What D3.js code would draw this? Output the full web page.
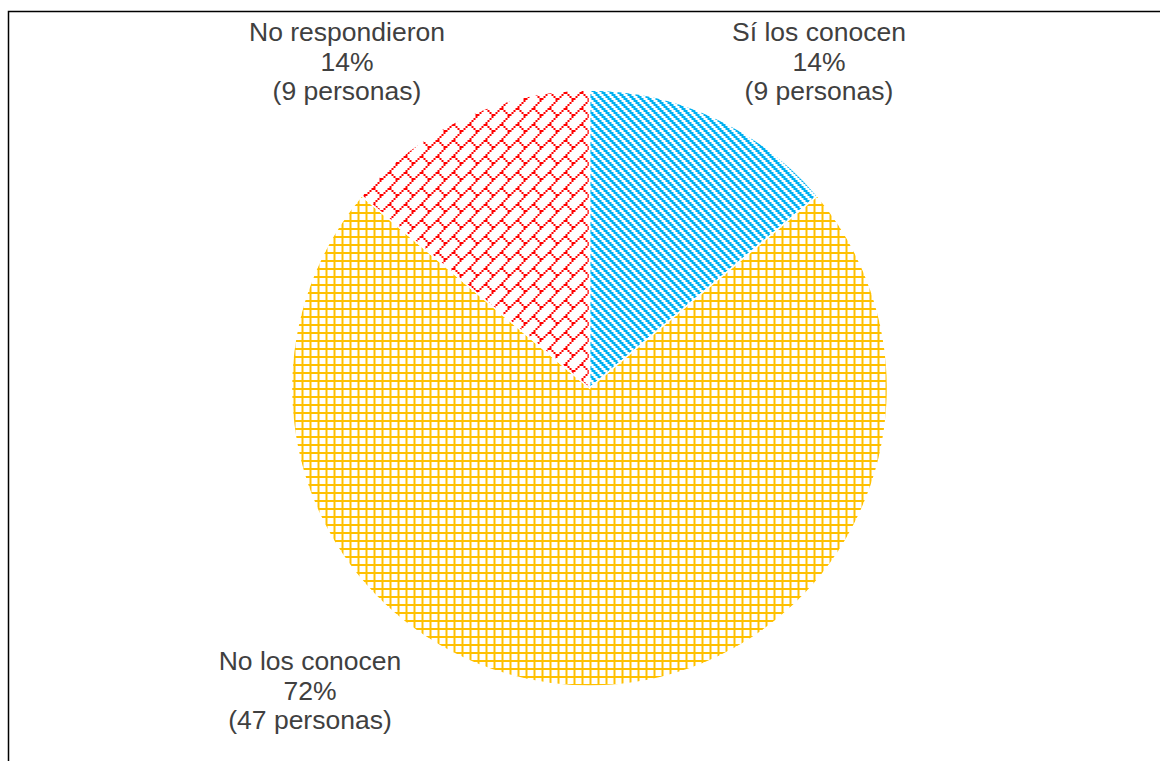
<!DOCTYPE html>
<html>
<head>
<meta charset="utf-8">
<script src="https://cdn.jsdelivr.net/npm/d3@7"></script>
<style>
  html, body { margin: 0; padding: 0; background: #ffffff; }
  svg { display: block; }
</style>
</head>
<body>
<svg id="chart" width="1160" height="761"></svg>
<script>
// Survey answers: do respondents know them?
const categories = ["Sí los conocen", "No los conocen", "No respondieron"];
const counts = [9, 47, 9];
const unitLabel = "personas";

// Fill pattern for each slice (same order as categories)
const patternIds = ["pat-blue", "pat-yellow", "pat-red"];
const colors = ["#00B0F0", "#FFC000", "#FF0000"];

// Label anchors (centre of the first text line), same order as categories
const labelAnchors = [[819, 32], [310, 661], [347, 32]];

const W = 1160, H = 761;
const cx = 589.5, cy = 388, R = 298;
const fontSize = 26.5, lineGap = 29.6;

const svg = d3.select("#chart");

// Outer frame (right and bottom edges sit beyond the canvas)
svg.append("rect")
  .attr("x", 8.5).attr("y", 11.5)
  .attr("width", W).attr("height", H)
  .attr("fill", "none").attr("stroke", "#000").attr("stroke-width", 1.5);

const defs = svg.append("defs");

// Draws a pixel hatch: cells is a list of [col,row] in a base grid, each cell "px" pixels
function pixelPattern(id, size, px, cells, color) {
  const p = defs.append("pattern")
    .attr("id", id)
    .attr("patternUnits", "userSpaceOnUse")
    .attr("width", size * px).attr("height", size * px);
  p.append("rect").attr("width", size * px).attr("height", size * px).attr("fill", "#fff");
  p.selectAll("rect.c").data(cells).join("rect")
    .attr("class", "c")
    .attr("x", d => d[0] * px).attr("y", d => d[1] * px)
    .attr("width", px).attr("height", px)
    .attr("fill", color)
    .attr("shape-rendering", "crispEdges");
}

// Dark downward diagonal (4x4 base)
const dnDiag = [];
[[2, 3], [3, 0], [0, 1], [1, 2]].forEach((cols, r) => cols.forEach(c => dnDiag.push([c, r])));
pixelPattern(patternIds[0], 4, 2, dnDiag, colors[0]);

// Small grid (4x4 base)
const grid = [];
for (let i = 0; i < 4; i++) { grid.push([i, 0]); if (i > 0) grid.push([0, i]); }
pixelPattern(patternIds[1], 4, 2, grid, colors[1]);

// Diagonal brick (8x8 base)
const brick = [];
for (let r = 0; r < 8; r++) brick.push([7 - r, r]);
for (let r = 4; r < 8; r++) brick.push([r, r]);
pixelPattern(patternIds[2], 8, 2, brick, colors[2]);

const total = d3.sum(counts);
const pie = d3.pie().sort(null).value(d => d).startAngle(0).endAngle(2 * Math.PI);
const arc = d3.arc().innerRadius(0).outerRadius(R);

const g = svg.append("g").attr("transform", `translate(${cx},${cy})`);
g.selectAll("path.slice")
  .data(pie(counts))
  .join("path")
  .attr("class", "slice")
  .attr("d", arc)
  .attr("fill", (d, i) => `url(#${patternIds[i]})`)
  .attr("stroke", "#fff")
  .attr("stroke-width", 1.5);

// Data labels: name, percentage, count
const pct = d3.format(".0%");
const labels = svg.append("g")
  .attr("font-family", "Liberation Sans, Arial, sans-serif")
  .attr("font-size", fontSize)
  .attr("fill", "#404040")
  .attr("text-anchor", "middle");

categories.forEach((name, i) => {
  const lines = [name, pct(counts[i] / total), `(${counts[i]} ${unitLabel})`];
  const t = labels.append("text")
    .attr("x", labelAnchors[i][0])
    .attr("y", labelAnchors[i][1])
    .attr("dominant-baseline", "central");
  lines.forEach((ln, k) => {
    t.append("tspan")
      .attr("x", labelAnchors[i][0])
      .attr("y", labelAnchors[i][1] + k * lineGap)
      .text(ln);
  });
});
</script>
</body>
</html>
